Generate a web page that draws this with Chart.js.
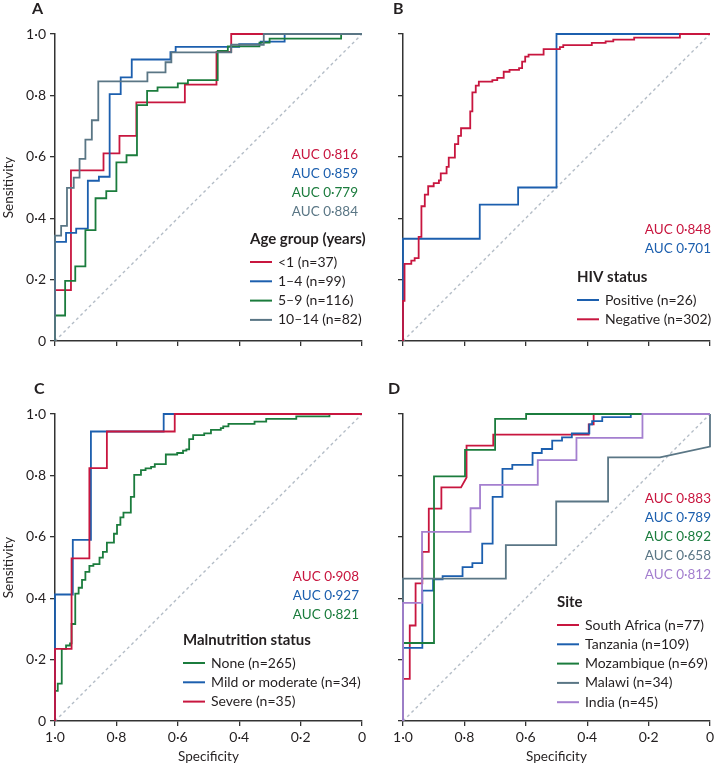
<!DOCTYPE html>
<html>
<head>
<meta charset="utf-8">
<script src="https://cdn.jsdelivr.net/npm/chart.js@4"></script>
<style>
  body { margin: 0; background: #fff; }
  #wrap { position: relative; width: 714px; height: 770px; }
  canvas { position: absolute; }
</style>
</head>
<body>
<div id="wrap">
  <canvas id="panelA" width="370" height="360" style="left:0;top:0"></canvas>
  <canvas id="panelB" width="357" height="360" style="left:357px;top:0"></canvas>
  <canvas id="panelC" width="370" height="390" style="left:0;top:380px"></canvas>
  <canvas id="panelD" width="357" height="390" style="left:357px;top:380px"></canvas>
</div>
<script>
// tick values (specificity runs 1 -> 0, sensitivity 0 -> 1)
const axisTicks = [0, 0.2, 0.4, 0.6, 0.8, 1];
const chanceLine = [[1, 0], [0, 1]];

// A - age group, points are [specificity, sensitivity]
const ageLabels = ['<1 (n=37)', '1–4 (n=99)', '5–9 (n=116)', '10–14 (n=82)'];
const ageAuc = [0.816, 0.859, 0.779, 0.884];
const ageUnder1 = [[1,0],[1,0.166],[0.948,0.166],[0.948,0.556],[0.842,0.556],[0.842,0.611],[0.790,0.611],[0.790,0.668],[0.735,0.668],[0.735,0.777],[0.577,0.777],[0.577,0.835],[0.474,0.835],[0.474,0.942],[0.426,0.942],[0.426,1],[0,1]];
const age1to4 = [[1,0],[1,0.323],[0.964,0.323],[0.964,0.352],[0.931,0.352],[0.931,0.366],[0.893,0.366],[0.893,0.522],[0.857,0.522],[0.857,0.535],[0.822,0.535],[0.822,0.804],[0.786,0.804],[0.786,0.859],[0.750,0.859],[0.750,0.917],[0.624,0.917],[0.624,0.941],[0.607,0.941],[0.607,0.958],[0.400,0.958],[0.400,0.967],[0.330,0.967],[0.330,0.975],[0.252,0.975],[0.252,1],[0,1]];
const age5to9 = [[1,0],[1,0.083],[0.967,0.083],[0.967,0.196],[0.934,0.196],[0.934,0.243],[0.901,0.243],[0.901,0.361],[0.868,0.361],[0.868,0.465],[0.833,0.465],[0.833,0.488],[0.800,0.488],[0.800,0.582],[0.767,0.582],[0.767,0.605],[0.733,0.605],[0.733,0.768],[0.700,0.768],[0.700,0.815],[0.666,0.815],[0.666,0.826],[0.600,0.826],[0.600,0.839],[0.567,0.839],[0.567,0.850],[0.470,0.850],[0.470,0.945],[0.437,0.945],[0.437,0.960],[0.334,0.960],[0.334,0.972],[0.301,0.972],[0.301,0.985],[0.068,0.985],[0.068,1],[0,1]];
const age10to14 = [[1,0],[1,0.343],[0.980,0.343],[0.980,0.375],[0.961,0.375],[0.961,0.499],[0.939,0.499],[0.939,0.532],[0.920,0.532],[0.920,0.593],[0.901,0.593],[0.901,0.656],[0.880,0.656],[0.880,0.719],[0.859,0.719],[0.859,0.846],[0.699,0.846],[0.699,0.875],[0.640,0.875],[0.640,0.908],[0.621,0.908],[0.621,0.940],[0.426,0.940],[0.426,0.965],[0.320,0.965],[0.320,1],[0,1]];

// B - HIV status
const hivLabels = ['Positive (n=26)', 'Negative (n=302)'];
const hivAuc = [0.701, 0.848];
const hivPositive = [[1,0],[1,0.333],[0.75,0.333],[0.75,0.444],[0.625,0.444],[0.625,0.5],[0.5,0.5],[0.5,1],[0,1]];
const hivNegative = [[1,0],[1,0.131],[0.995,0.131],[0.995,0.251],[0.973,0.251],[0.973,0.262],[0.962,0.262],[0.962,0.270],[0.949,0.270],[0.949,0.339],[0.940,0.339],[0.940,0.439],[0.929,0.439],[0.929,0.477],[0.918,0.477],[0.918,0.504],[0.900,0.504],[0.900,0.514],[0.883,0.514],[0.883,0.523],[0.877,0.523],[0.877,0.546],[0.858,0.546],[0.858,0.567],[0.851,0.567],[0.851,0.597],[0.831,0.597],[0.831,0.641],[0.820,0.641],[0.820,0.668],[0.811,0.668],[0.811,0.693],[0.781,0.693],[0.781,0.748],[0.774,0.748],[0.774,0.810],[0.763,0.810],[0.763,0.832],[0.753,0.832],[0.753,0.845],[0.709,0.845],[0.709,0.850],[0.693,0.850],[0.693,0.857],[0.672,0.857],[0.672,0.877],[0.653,0.877],[0.653,0.883],[0.622,0.883],[0.622,0.889],[0.612,0.889],[0.612,0.910],[0.602,0.910],[0.602,0.926],[0.591,0.926],[0.591,0.933],[0.542,0.933],[0.542,0.951],[0.489,0.951],[0.489,0.957],[0.478,0.957],[0.478,0.964],[0.385,0.964],[0.385,0.971],[0.340,0.971],[0.340,0.976],[0.315,0.976],[0.315,0.982],[0.247,0.982],[0.247,0.988],[0.098,0.988],[0.098,1],[0,1]];

// C - malnutrition status
const malLabels = ['None (n=265)', 'Mild or moderate (n=34)', 'Severe (n=35)'];
const malAuc = [0.821, 0.927, 0.908];
const malNone = [[1,0],[1,0.098],[0.991,0.098],[0.991,0.122],[0.978,0.122],[0.978,0.235],[0.964,0.235],[0.964,0.246],[0.951,0.246],[0.951,0.253],[0.946,0.253],[0.946,0.316],[0.934,0.316],[0.934,0.415],[0.923,0.415],[0.923,0.434],[0.912,0.434],[0.912,0.460],[0.901,0.460],[0.901,0.486],[0.888,0.486],[0.888,0.505],[0.875,0.505],[0.875,0.511],[0.855,0.511],[0.855,0.532],[0.844,0.532],[0.844,0.551],[0.831,0.551],[0.831,0.581],[0.808,0.581],[0.808,0.610],[0.798,0.610],[0.798,0.639],[0.787,0.639],[0.787,0.663],[0.777,0.663],[0.777,0.679],[0.753,0.679],[0.753,0.730],[0.742,0.730],[0.742,0.802],[0.720,0.802],[0.720,0.817],[0.705,0.817],[0.705,0.823],[0.687,0.823],[0.687,0.828],[0.675,0.828],[0.675,0.837],[0.639,0.837],[0.639,0.868],[0.602,0.868],[0.602,0.873],[0.583,0.873],[0.583,0.881],[0.572,0.881],[0.572,0.885],[0.563,0.885],[0.563,0.918],[0.550,0.918],[0.550,0.931],[0.514,0.931],[0.514,0.937],[0.492,0.937],[0.492,0.948],[0.460,0.948],[0.460,0.954],[0.452,0.954],[0.452,0.960],[0.435,0.960],[0.435,0.968],[0.350,0.968],[0.350,0.975],[0.312,0.975],[0.312,0.984],[0.214,0.984],[0.214,0.992],[0.106,0.992],[0.106,1],[0,1]];
const malMild = [[1,0],[1,0.412],[0.942,0.412],[0.942,0.590],[0.883,0.590],[0.883,0.943],[0.646,0.943],[0.646,1],[0,1]];
const malSevere = [[1,0],[1,0.235],[0.946,0.235],[0.946,0.530],[0.888,0.530],[0.888,0.824],[0.831,0.824],[0.831,0.943],[0.610,0.943],[0.610,1],[0,1]];

// D - site
const siteLabels = ['South Africa (n=77)', 'Tanzania (n=109)', 'Mozambique (n=69)', 'Malawi (n=34)', 'India (n=45)'];
const siteAuc = [0.883, 0.789, 0.892, 0.658, 0.812];
const siteSouthAfrica = [[1,0],[1,0.137],[0.978,0.137],[0.978,0.311],[0.959,0.311],[0.959,0.448],[0.937,0.448],[0.937,0.551],[0.916,0.551],[0.916,0.692],[0.875,0.692],[0.875,0.761],[0.811,0.761],[0.793,0.793],[0.793,0.897],[0.706,0.897],[0.706,0.933],[0.395,0.933],[0.395,0.966],[0.379,0.966],[0.379,1],[0,1]];
const siteTanzania = [[1,0],[1,0.238],[0.937,0.238],[0.937,0.425],[0.902,0.425],[0.902,0.461],[0.871,0.461],[0.871,0.472],[0.806,0.472],[0.806,0.501],[0.774,0.501],[0.774,0.514],[0.742,0.514],[0.742,0.578],[0.708,0.578],[0.708,0.730],[0.676,0.730],[0.676,0.821],[0.644,0.821],[0.644,0.834],[0.578,0.834],[0.578,0.873],[0.548,0.873],[0.548,0.886],[0.514,0.886],[0.514,0.913],[0.482,0.913],[0.482,0.924],[0.450,0.924],[0.450,0.937],[0.393,0.937],[0.393,0.966],[0.384,0.966],[0.384,0.977],[0.351,0.977],[0.351,0.990],[0.258,0.990],[0.258,1],[0,1]];
const siteMozambique = [[1,0],[1,0.254],[0.899,0.254],[0.899,0.797],[0.798,0.797],[0.798,0.883],[0.700,0.883],[0.700,0.984],[0.599,0.984],[0.599,1],[0,1]];
const siteMalawi = [[1,0],[1,0.464],[0.665,0.464],[0.665,0.573],[0.501,0.573],[0.501,0.715],[0.332,0.715],[0.332,0.859],[0.163,0.859],[0,0.894],[0,1]];
const siteIndia = [[1,0],[1,0.385],[0.938,0.385],[0.938,0.616],[0.780,0.616],[0.780,0.693],[0.749,0.693],[0.749,0.769],[0.561,0.769],[0.561,0.850],[0.435,0.850],[0.435,0.922],[0.220,0.922],[0.220,1],[0,1]];

const RED = '#c8163f', BLUE = '#1c5fae', GREEN = '#1b7c3d', SLATE = '#5a7685', PURPLE = '#a47fcf';
const INK = '#231f20';
const FONT = "Lato, 'Open Sans', sans-serif";

Chart.defaults.font.family = FONT;
Chart.defaults.font.size = 14;
Chart.defaults.color = INK;

const fmtTick = v => v === 0 ? '0' : v.toFixed(1).replace('.', '·');
const fmtAuc = v => 'AUC ' + v.toFixed(3).replace('.', '·');

// panel text settings (offsets are from the chart area)
const panels = {
  panelA: { letter: 'A', letterX: 32, series: [ageUnder1, age1to4, age5to9, age10to14], labels: ageLabels, auc: ageAuc,
    colors: [RED, BLUE, GREEN, SLATE], aucOrder: [0, 1, 2, 3], aucX: -4, aucY: 121, title: 'Age group (years)', legX: 195, legY: 205,
    top: 34, right: 8, yw: 55, xh: 19, yLabels: true, xLabels: false },
  panelB: { letter: 'B', letterX: 36, series: [hivPositive, hivNegative], labels: hivLabels, auc: hivAuc,
    colors: [BLUE, RED], aucOrder: [1, 0], aucX: 1, aucY: 196, title: 'HIV status', legX: 174, legY: 243,
    top: 34, right: 4, yw: 46, xh: 19, yLabels: false, xLabels: false },
  panelC: { letter: 'C', letterX: 34, series: [malNone, malMild, malSevere], labels: malLabels, auc: malAuc,
    colors: [GREEN, BLUE, RED], aucOrder: [2, 1, 0], aucX: -3, aucY: 163, title: 'Malnutrition status', legX: 128, legY: 226,
    top: 34, right: 8, yw: 55, xh: 49, yLabels: true, xLabels: true },
  panelD: { letter: 'D', letterX: 31, series: [siteSouthAfrica, siteTanzania, siteMozambique, siteMalawi, siteIndia], labels: siteLabels, auc: siteAuc,
    colors: [RED, BLUE, GREEN, SLATE, PURPLE], aucOrder: [0, 1, 2, 3, 4], aucX: 1, aucY: 85, title: 'Site', legX: 154, legY: 188,
    top: 34, right: 4, yw: 46, xh: 49, yLabels: false, xLabels: true }
};

const panelText = {
  id: 'panelText',
  afterDraw(chart) {
    const p = panels[chart.canvas.id];
    const { ctx, chartArea: a } = chart;
    ctx.save();
    ctx.fillStyle = INK;
    ctx.font = 'bold 16px ' + FONT;
    ctx.textBaseline = 'alphabetic';
    ctx.fillText(p.letter, p.letterX, 14);

    ctx.font = '13.5px ' + FONT;
    ctx.textAlign = 'right';
    ctx.textBaseline = 'middle';
    p.aucOrder.forEach((k, j) => {
      ctx.fillStyle = p.colors[k];
      ctx.fillText(fmtAuc(p.auc[k]), a.right + p.aucX, a.top + p.aucY + j * 19);
    });

    ctx.textAlign = 'left';
    ctx.fillStyle = INK;
    ctx.font = 'bold 15px ' + FONT;
    ctx.fillText(p.title, a.left + p.legX, a.top + p.legY);
    ctx.font = '14px ' + FONT;
    p.labels.forEach((lab, i) => {
      const y = a.top + p.legY + 23 + i * 19.3;
      ctx.strokeStyle = p.colors[i];
      ctx.lineWidth = 2;
      ctx.beginPath();
      ctx.moveTo(a.left + p.legX, y);
      ctx.lineTo(a.left + p.legX + 22, y);
      ctx.stroke();
      ctx.fillStyle = INK;
      ctx.fillText(lab, a.left + p.legX + 28, y);
    });
    ctx.restore();
  }
};

function axis(p, isX) {
  return {
    type: 'linear',
    min: 0,
    max: 1,
    reverse: isX,
    afterBuildTicks: s => { s.ticks = axisTicks.map(v => ({ value: v })); },
    afterFit: s => { if (isX) s.height = p.xh; else s.width = p.yw; },
    ticks: { display: isX ? p.xLabels : p.yLabels, callback: v => fmtTick(v), padding: isX ? 3 : 4, color: INK },
    grid: { drawOnChartArea: false, drawTicks: true, tickLength: 5, color: '#333', lineWidth: 1.3 },
    border: { display: true, color: '#333', width: 1.5 },
    title: isX
      ? { display: p.xLabels, text: 'Specificity', padding: { top: 0, bottom: 5 }, color: INK, font: { size: 13.5 } }
      : { display: p.yLabels, text: 'Sensitivity', padding: { top: 1, bottom: 0 }, color: INK, font: { size: 13.5 } }
  };
}

Object.keys(panels).forEach(id => {
  const p = panels[id];
  const datasets = p.series.map((s, i) => ({
    label: p.labels[i],
    data: s.map(pt => ({ x: pt[0], y: pt[1] })),
    borderColor: p.colors[i],
    borderWidth: 1.8,
    pointRadius: 0,
    tension: 0,
    fill: false,
    clip: false,
    order: -i
  }));
  datasets.push({
    label: 'chance',
    data: chanceLine.map(pt => ({ x: pt[0], y: pt[1] })),
    borderColor: '#b3bcc6',
    borderDash: [3, 3],
    borderWidth: 1.4,
    pointRadius: 0,
    order: 10
  });

  new Chart(document.getElementById(id).getContext('2d'), {
    type: 'line',
    data: { datasets },
    options: {
      responsive: false,
      animation: false,
      layout: { padding: { top: p.top, right: p.right, left: 0, bottom: 0 } },
      scales: { x: axis(p, true), y: axis(p, false) },
      plugins: { legend: { display: false }, tooltip: { enabled: false } }
    },
    plugins: [panelText]
  });
});
</script>
</body>
</html>
